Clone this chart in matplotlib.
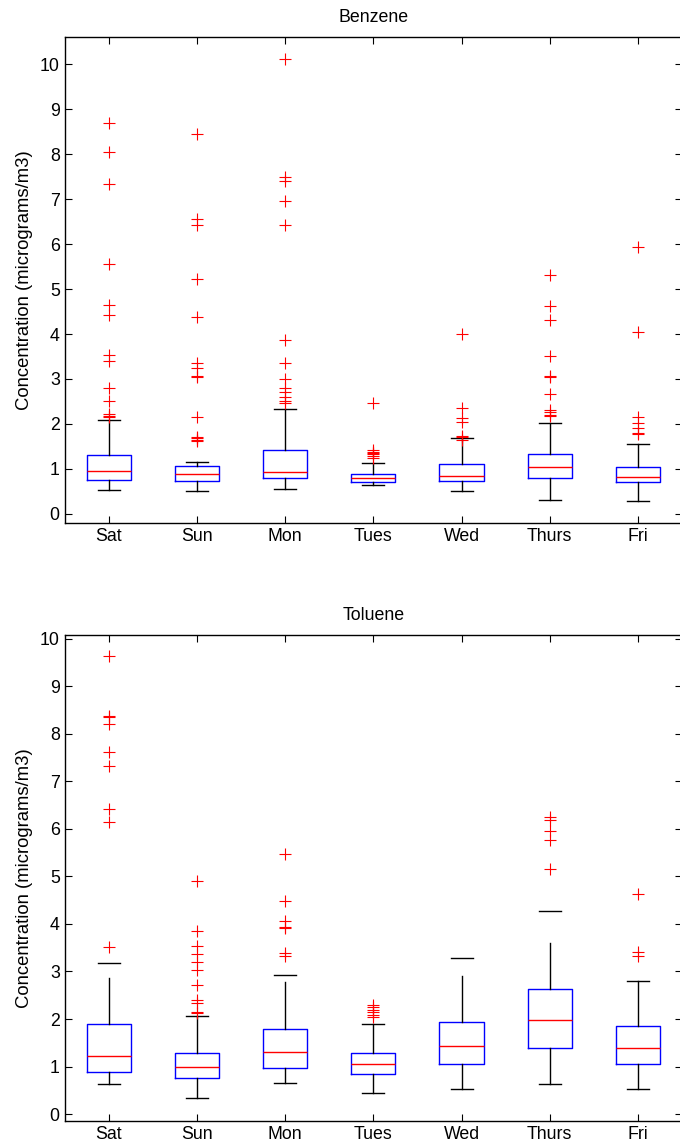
import numpy as np
import matplotlib
matplotlib.use('Agg')
import matplotlib.pyplot as plt

plt.rcParams['font.family'] = ['Liberation Sans', 'DejaVu Sans']

days = ['Sat', 'Sun', 'Mon', 'Tues', 'Wed', 'Thurs', 'Fri']

# Benzene: box statistics
benz_lo = [0.53, 0.50, 0.56, 0.64, 0.50, 0.31, 0.28]
benz_q1 = [0.755, 0.72, 0.79, 0.70, 0.72, 0.79, 0.70]
benz_med = [0.95, 0.88, 0.92, 0.79, 0.85, 1.05, 0.82]
benz_q3 = [1.30, 1.07, 1.42, 0.88, 1.10, 1.33, 1.05]
benz_hi = [2.09, 1.16, 2.34, 1.14, 1.68, 2.02, 1.55]
benz_out = [
    [8.70, 8.05, 7.33, 5.56, 4.65, 4.42, 3.53, 3.39, 2.81, 2.52, 2.22, 2.18, 2.15],
    [8.44, 6.55, 6.42, 5.22, 4.37, 3.35, 3.25, 3.07, 3.04, 2.15, 1.71, 1.68, 1.65, 1.61],
    [10.12, 7.50, 7.40, 6.95, 6.42, 3.86, 3.35, 3.00, 2.81, 2.71, 2.59, 2.52, 2.46],
    [2.47, 1.42, 1.38, 1.35, 1.32, 1.28, 1.25],
    [3.99, 2.36, 2.14, 2.04, 1.73, 1.70, 1.65],
    [5.31, 4.62, 4.31, 3.50, 3.07, 3.04, 2.66, 2.31, 2.27, 2.20, 2.17],
    [5.94, 4.05, 2.15, 2.01, 1.91, 1.80, 1.78],
]

# Toluene
tol_lo = [0.63, 0.33, 0.66, 0.45, 0.53, 0.63, 0.53]
tol_q1 = [0.89, 0.75, 0.96, 0.84, 1.05, 1.40, 1.05]
tol_med = [1.23, 0.99, 1.31, 1.05, 1.43, 1.98, 1.40]
tol_q3 = [1.89, 1.28, 1.80, 1.28, 1.94, 2.63, 1.85]
tol_hi = [3.17, 2.06, 2.93, 1.89, 3.29, 4.28, 2.79]
# where the drawn upper whisker line actually stops (gap below the cap)
tol_wend = [2.86, 2.06, 2.78, 1.89, 2.90, 3.59, 2.79]
tol_out = [
    [9.64, 8.38, 8.36, 8.20, 7.61, 7.33, 6.41, 6.14, 3.52],
    [4.91, 3.86, 3.53, 3.36, 3.21, 3.03, 2.72, 2.40, 2.34, 2.15, 2.12],
    [5.48, 4.48, 4.06, 3.94, 3.92, 3.38, 3.33],
    [2.30, 2.25, 2.20, 2.15, 2.09, 2.05],
    [],
    [6.26, 6.19, 5.96, 5.77, 5.15],
    [4.64, 3.41, 3.33],
]


def make_stats(lo, q1, med, q3, hi, out):
    return [dict(whislo=lo[i], q1=q1[i], med=med[i], q3=q3[i], whishi=hi[i],
                 fliers=out[i]) for i in range(len(lo))]


def draw(ax, stats, title, ylim, wend=None):
    res = ax.bxp(stats, positions=range(1, 8), widths=0.5, capwidths=0.25,
                 boxprops=dict(color='blue', linewidth=1.0),
                 medianprops=dict(color='red', linewidth=1.0),
                 whiskerprops=dict(color='black', linewidth=1.0),
                 capprops=dict(color='black', linewidth=1.0),
                 flierprops=dict(marker='+', markeredgecolor='red', markersize=9,
                                 markeredgewidth=0.8, linestyle='none'))
    if wend is not None:
        for i, w in enumerate(res['whiskers'][1::2]):
            y = w.get_ydata()
            w.set_ydata([y[0], wend[i]])
    ax.set_xlim(0.5, 7.5)
    ax.set_ylim(*ylim)
    ax.set_yticks(range(0, 11))
    ax.set_xticks(range(1, 8))
    ax.set_xticklabels(days)
    ax.tick_params(direction='in', top=True, right=True, length=5,
                   labelsize=12.8, width=0.8)
    for s in ax.spines.values():
        s.set_linewidth(1.0)
    ax.set_title(title, fontsize=12.8, pad=11)
    ax.set_ylabel('Concentration (micrograms/m3)', fontsize=13.3, labelpad=5)


fig = plt.figure(figsize=(6.8, 11.45), dpi=100)
ax1 = fig.add_axes([0.095, 0.543, 0.908, 0.4244])
ax2 = fig.add_axes([0.095, 0.0212, 0.908, 0.4242])

draw(ax1, make_stats(benz_lo, benz_q1, benz_med, benz_q3, benz_hi, benz_out),
     'Benzene', (-0.21, 10.6))
draw(ax2, make_stats(tol_lo, tol_q1, tol_med, tol_q3, tol_hi, tol_out),
     'Toluene', (-0.14, 10.08), wend=tol_wend)

fig.savefig('out.png', dpi=100)
